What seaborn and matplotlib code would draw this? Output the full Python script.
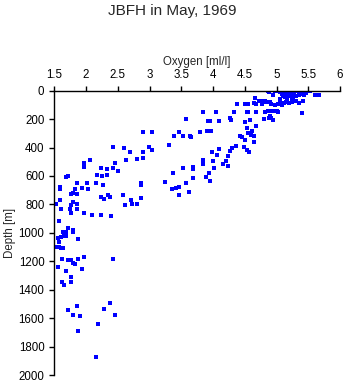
import matplotlib
matplotlib.use("Agg")
import matplotlib.pyplot as plt
import seaborn as sns
import pandas as pd
from matplotlib.ticker import FuncFormatter

oxygen = [
    4.87, 4.88, 4.97, 5.03, 5.07, 5.10, 5.13, 5.16, 5.20, 5.23, 5.27, 5.32, 5.37, 5.45, 5.46, 5.52,
    4.95, 5.05, 5.08, 5.12, 5.15, 5.18, 5.22, 5.25, 5.28, 5.10, 5.14, 5.20, 5.24, 5.30, 5.35, 5.40,
    5.43, 5.06, 5.17, 5.26, 5.60, 5.67, 5.42,
    4.66, 4.50, 4.55, 4.68, 4.64, 4.72, 4.76, 4.82, 4.84, 4.77, 4.90, 4.92, 4.97, 5.02, 5.05, 5.08,
    5.12, 5.15, 5.20, 5.25, 5.30, 5.36,
    4.38, 4.27, 4.28, 4.33, 4.54, 4.68, 4.55, 4.82, 4.86, 4.90, 4.95, 5.00, 5.03,
    4.90, 4.92, 4.94, 4.88, 4.80, 5.40,
    4.51, 4.59, 4.67, 4.54, 4.62, 4.59, 4.55, 4.64, 4.60, 4.46, 4.42, 4.50, 4.64, 4.49, 4.54, 4.56,
    3.84, 4.04, 3.57, 3.92, 3.95, 4.09,
    3.79, 3.91, 3.97, 3.47, 3.38, 3.52, 3.64, 3.66, 3.30,
    3.04, 2.89, 2.99, 3.04, 2.89, 2.42, 2.60, 2.69, 2.81, 2.90, 2.63,
    2.06, 1.96, 1.96, 2.46, 2.43, 2.51, 2.24, 2.33, 2.18, 2.25, 2.33, 1.72, 1.68,
    4.27, 4.30, 4.36, 4.10, 3.98, 4.06, 4.24, 4.00, 4.15, 4.20, 4.24, 3.84, 3.85, 4.01, 3.89, 3.94,
    3.95, 3.68, 3.68, 3.68, 3.53, 3.37, 3.25, 3.35, 3.42, 3.46, 3.46, 3.58, 3.62,
    1.59, 1.59, 1.85, 1.76, 1.80, 1.86, 1.82, 1.93, 2.02, 2.03, 2.15, 2.26,
    2.23, 2.28, 2.34, 2.37, 2.58, 2.62, 2.71, 2.72, 2.80, 2.87, 2.87, 2.87,
    1.52, 1.59, 1.76, 1.79, 1.85, 1.61, 1.75, 1.85, 1.76, 1.96, 2.10, 2.24, 2.40,
    1.57, 1.63, 1.71, 1.68, 1.79, 1.79, 1.56, 1.61, 1.65, 1.69,
    1.54, 1.58, 1.60, 1.63, 1.88, 1.58,
    1.62, 1.71, 1.77, 1.79, 1.82, 1.87, 1.97, 2.42, 1.56, 1.93, 1.68,
    1.77, 1.77, 1.62, 1.66,
    1.86, 1.71, 1.79, 1.90, 2.28, 2.37, 2.46, 2.19, 1.88, 2.15,
]

depth = [
    0, 12, 0, 0, 0, 0, 0, 0, 0, 0, 0, 0, 0, 5, 15, 0,
    30, 10, 20, 15, 25, 10, 20, 30, 15, 40, 45, 40, 50, 35, 30, 25,
    30, 55, 55, 60, 30, 30, 73,
    49, 96, 96, 96, 85, 73, 73, 73, 80, 96, 80, 96, 100, 95, 85, 100,
    90, 82, 85, 80, 75, 85,
    95, 195, 207, 151, 149, 149, 148, 147, 140, 142, 140, 145, 147,
    181, 195, 205, 190, 202, 155,
    218, 206, 249, 265, 283, 298, 300, 321, 310, 328, 320, 347, 359, 395, 419, 430,
    149, 151, 202, 214, 214, 216,
    293, 284, 284, 293, 316, 321, 321, 325, 379,
    293, 293, 395, 414, 433, 395, 405, 428, 479, 474, 491,
    488, 507, 537, 512, 542, 563, 542, 554, 595, 600, 595, 597, 605,
    421, 405, 391, 409, 433, 454, 460, 495, 514, 495, 530, 491, 519, 542, 605, 582,
    633, 535, 554, 612, 547, 577, 640, 693, 686, 677, 735, 647, 716,
    675, 694, 647, 729, 722, 729, 689, 684, 647, 694, 647, 661,
    745, 759, 736, 745, 736, 801, 768, 794, 799, 647, 665, 754,
    794, 771, 806, 780, 794, 834, 829, 834, 857, 857, 874, 874, 881,
    916, 993, 967, 991, 979, 993, 1033, 1026, 1021, 1023,
    1096, 1096, 1108, 1110, 1044, 1065,
    1187, 1192, 1194, 1215, 1222, 1187, 1173, 1185, 1243, 1255, 1271,
    1313, 1344, 1349, 1365,
    1517, 1543, 1575, 1582, 1536, 1496, 1575, 1643, 1692, 1872,
]

x_ticks = [1.5, 2, 2.5, 3, 3.5, 4, 4.5, 5, 5.5, 6]
y_ticks = [0, 200, 400, 600, 800, 1000, 1200, 1400, 1600, 1800, 2000]

df = pd.DataFrame({"Oxygen": oxygen, "Depth": depth})

sns.set_style("ticks")
plt.rcParams["font.family"] = ["Liberation Sans", "DejaVu Sans"]

fig = plt.figure(figsize=(3.45, 3.84), dpi=100)
ax = fig.add_axes([0.1574, 0.0234, 0.8281, 0.7404])

sns.scatterplot(data=df, x="Oxygen", y="Depth", marker="s", s=5,
                color=(0, 0, 1), linewidth=0, ax=ax)

ax.set_xlim(1.5, 6)
ax.set_ylim(2000, 0)
ax.set_xticks(x_ticks)
ax.set_yticks(y_ticks)
ax.xaxis.set_major_formatter(FuncFormatter(lambda v, p: "%g" % v))
ax.xaxis.tick_top()
ax.xaxis.set_label_position("top")
for s in ["right", "bottom"]:
    ax.spines[s].set_visible(False)
for s in ["top", "left"]:
    ax.spines[s].set_linewidth(1.0)
    ax.spines[s].set_color("black")
ax.tick_params(axis="both", direction="out", length=3.6, width=1,
               labelsize=8.3, colors="black", pad=3.5)
ax.set_xlabel("Oxygen [ml/l]", fontsize=8.3, labelpad=3)
ax.set_ylabel("Depth [m]", fontsize=8.3, labelpad=2)
fig.suptitle("JBFH in May, 1969", fontsize=11, y=0.99)

fig.savefig("out.png", dpi=100)
